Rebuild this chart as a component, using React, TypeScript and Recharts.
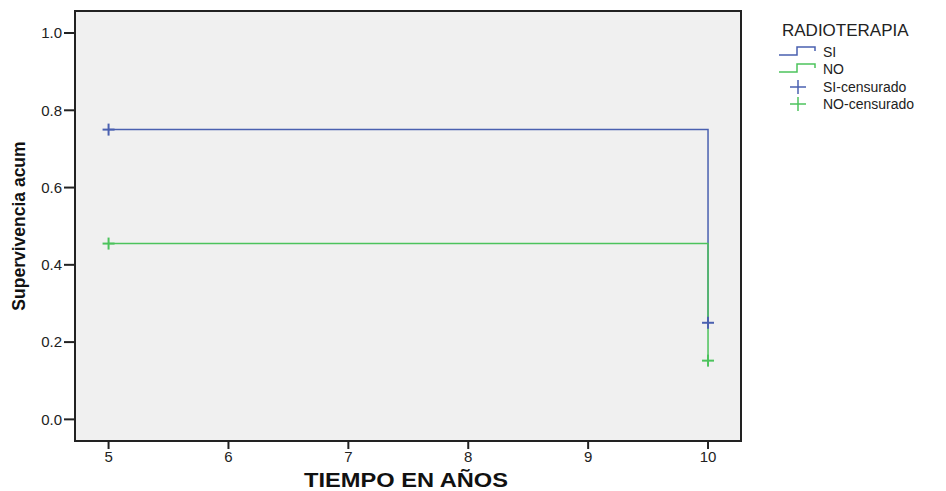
import React from "react";
import {
  ComposedChart,
  Line,
  Scatter,
  XAxis,
  YAxis,
  CartesianGrid,
  ReferenceArea,
} from "recharts";

document.body.style.margin = "0";

// Kaplan-Meier steps
const siCurve = [
  { t: 5, s: 0.75 },
  { t: 10, s: 0.25 },
];
const noCurve = [
  { t: 5, s: 0.455 },
  { t: 10, s: 0.152 },
];
const siCensored = [
  { t: 5, s: 0.75 },
  { t: 10, s: 0.25 },
];
const noCensored = [
  { t: 5, s: 0.455 },
  { t: 10, s: 0.152 },
];

const xTicks = [5, 6, 7, 8, 9, 10];
const yTicks = [0, 0.2, 0.4, 0.6, 0.8, 1.0];
const X_DOMAIN: [number, number] = [4.72, 10.275];
const Y_DOMAIN: [number, number] = [-0.056, 1.057];

const BLUE = "#4A60B0";
const GREEN = "#4CC35C";
const FONT = "'Liberation Sans', Arial, sans-serif";

const Plus = (color: string) => (props: any) => {
  const { cx, cy } = props;
  if (cx == null || cy == null) return <g />;
  return (
    <g stroke={color} strokeWidth={2}>
      <line x1={cx - 6} y1={cy} x2={cx + 6} y2={cy} />
      <line x1={cx} y1={cy - 6} x2={cx} y2={cy + 6} />
    </g>
  );
};

// SPSS draws the x title a little stretched
const XTitle = (props: any) => {
  const vb = props.viewBox || {};
  const cx = vb.x + vb.width / 2 - 2;
  const y = vb.y + vb.height - 4;
  return (
    <text
      x={cx}
      y={y}
      textAnchor="middle"
      fontSize={20}
      fontWeight="bold"
      fill="#111"
      textLength={204}
      lengthAdjust="spacingAndGlyphs"
    >
      TIEMPO EN AÑOS
    </text>
  );
};

const legendRows = [
  { label: "SI", color: BLUE, kind: "step" },
  { label: "NO", color: GREEN, kind: "step" },
  { label: "SI-censurado", color: BLUE, kind: "plus" },
  { label: "NO-censurado", color: GREEN, kind: "plus" },
];

function KMLegend() {
  return (
    <div style={{ position: "absolute", left: 779, top: 21, fontFamily: FONT, color: "#222" }}>
      <div style={{ fontSize: 17, marginLeft: 3, marginBottom: 2 }}>RADIOTERAPIA</div>
      {legendRows.map((r) => (
        <div key={r.label} style={{ display: "flex", alignItems: "center", height: 17.5 }}>
          <svg width={42} height={14}>
            {r.kind === "step" ? (
              <path d="M0,10 H18 V2 H36 V6" fill="none" stroke={r.color} strokeWidth={1.5} />
            ) : (
              <g stroke={r.color} strokeWidth={1.5}>
                <line x1={11} y1={7} x2={27} y2={7} />
                <line x1={19} y1={0} x2={19} y2={14} />
              </g>
            )}
          </svg>
          <span style={{ fontSize: 14, marginLeft: 2 }}>{r.label}</span>
        </div>
      ))}
    </div>
  );
}

export default function App() {
  return (
    <div style={{ position: "relative", width: 946, height: 491 }}>
      <ComposedChart
        width={946}
        height={491}
        margin={{ top: 11, right: 205, bottom: 0, left: 0 }}
        style={{ fontFamily: FONT }}
      >
        <CartesianGrid fill="#F0F0F0" horizontal={false} vertical={false} />
        <ReferenceArea
          x1={X_DOMAIN[0]}
          x2={X_DOMAIN[1]}
          y1={Y_DOMAIN[0]}
          y2={Y_DOMAIN[1]}
          fill="none"
          fillOpacity={0}
          stroke="#222"
          strokeWidth={2}
          strokeOpacity={1}
          ifOverflow="visible"
        />
        <XAxis
          type="number"
          dataKey="t"
          domain={X_DOMAIN}
          allowDataOverflow
          ticks={xTicks}
          interval={0}
          height={50}
          axisLine={{ stroke: "#222", strokeWidth: 2 }}
          tickLine={{ stroke: "#222", strokeWidth: 2 }}
          tickSize={8}
          tick={{ fill: "#222", fontSize: 15 }}
          label={XTitle}
        />
        <YAxis
          type="number"
          domain={Y_DOMAIN}
          allowDataOverflow
          ticks={yTicks}
          interval={0}
          width={75}
          tickFormatter={(v: number) => v.toFixed(1)}
          axisLine={{ stroke: "#222", strokeWidth: 2 }}
          tickLine={{ stroke: "#222", strokeWidth: 2 }}
          tickSize={11}
          tick={{ fill: "#222", fontSize: 15 }}
          label={{
            value: "Supervivencia acum",
            angle: -90,
            position: "insideLeft",
            offset: 19,
            fill: "#111",
            fontSize: 17.5,
            fontWeight: "bold",
            style: { textAnchor: "middle" },
          }}
        />
        <Line
          data={siCurve}
          dataKey="s"
          type="stepAfter"
          stroke={BLUE}
          strokeWidth={1.5}
          dot={false}
          isAnimationActive={false}
        />
        <Line
          data={noCurve}
          dataKey="s"
          type="stepAfter"
          stroke={GREEN}
          strokeWidth={1.5}
          dot={false}
          isAnimationActive={false}
        />
        <Scatter data={siCensored} dataKey="s" shape={Plus(BLUE)} isAnimationActive={false} />
        <Scatter data={noCensored} dataKey="s" shape={Plus(GREEN)} isAnimationActive={false} />
      </ComposedChart>
      <KMLegend />
    </div>
  );
}
